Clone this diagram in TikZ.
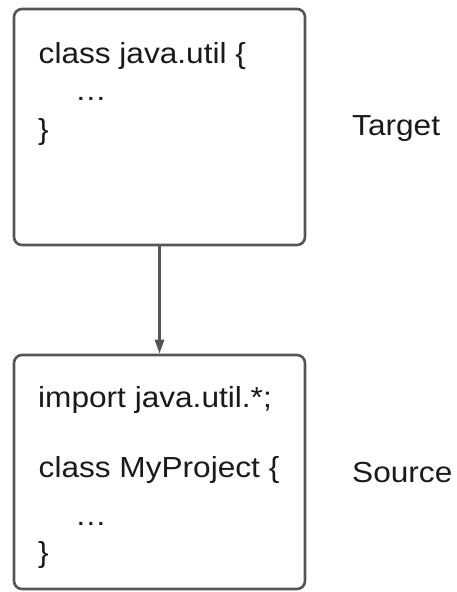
\documentclass[tikz,border=0pt]{standalone}
\usepackage{fontspec}
\setmainfont[FakeStretch=1.09]{Liberation Sans}
\usetikzlibrary{arrows.meta}
\definecolor{edgegray}{HTML}{555555}
\definecolor{inkgray}{HTML}{1A1A1A}
\begin{document}
\begin{tikzpicture}[x=1pt,y=-1pt,
  codebox/.style={draw=edgegray,line width=2.6pt,rounded corners=8pt,
    minimum width=291pt,inner sep=0pt,fill=white},
  codeline/.style={anchor=base west,inner sep=0pt,text=inkgray,
    font=\fontsize{29}{34}\selectfont},
  rolelabel/.style={anchor=base west,inner sep=0pt,text=inkgray,
    font=\fontsize{29}{34}\selectfont},
  link/.style={draw=edgegray,line width=2.6pt,
    -{Triangle[length=14pt,width=9pt]}}]
\useasboundingbox (0,0) rectangle (457,592);
\fill[white] (0,0) rectangle (457,592);

% upper box: the library class
\node[codebox,minimum height=236pt] (target) at (159.5,127) {};
\node[codeline] (t1) at (38.5,63) {class java.util \{};
\node[codeline] (t2) at (75,100) {…};
\node[codeline] (t3) at (38,139) {\}};
\node[rolelabel] (tlabel) at (352,135) {Target};

% lower box: the project that imports it
\node[codebox,minimum height=234pt] (source) at (159.5,472) {};
\node[codeline] (s1) at (38,407) {import java.util.*;};
\node[codeline] (s2) at (38.5,477) {class MyProject \{};
\node[codeline] (s3) at (75,525) {…};
\node[codeline] (s4) at (38,562) {\}};
\node[rolelabel] (slabel) at (352,482) {Source};

\draw[link] (target.south) -- (source.north);
\end{tikzpicture}
\end{document}
